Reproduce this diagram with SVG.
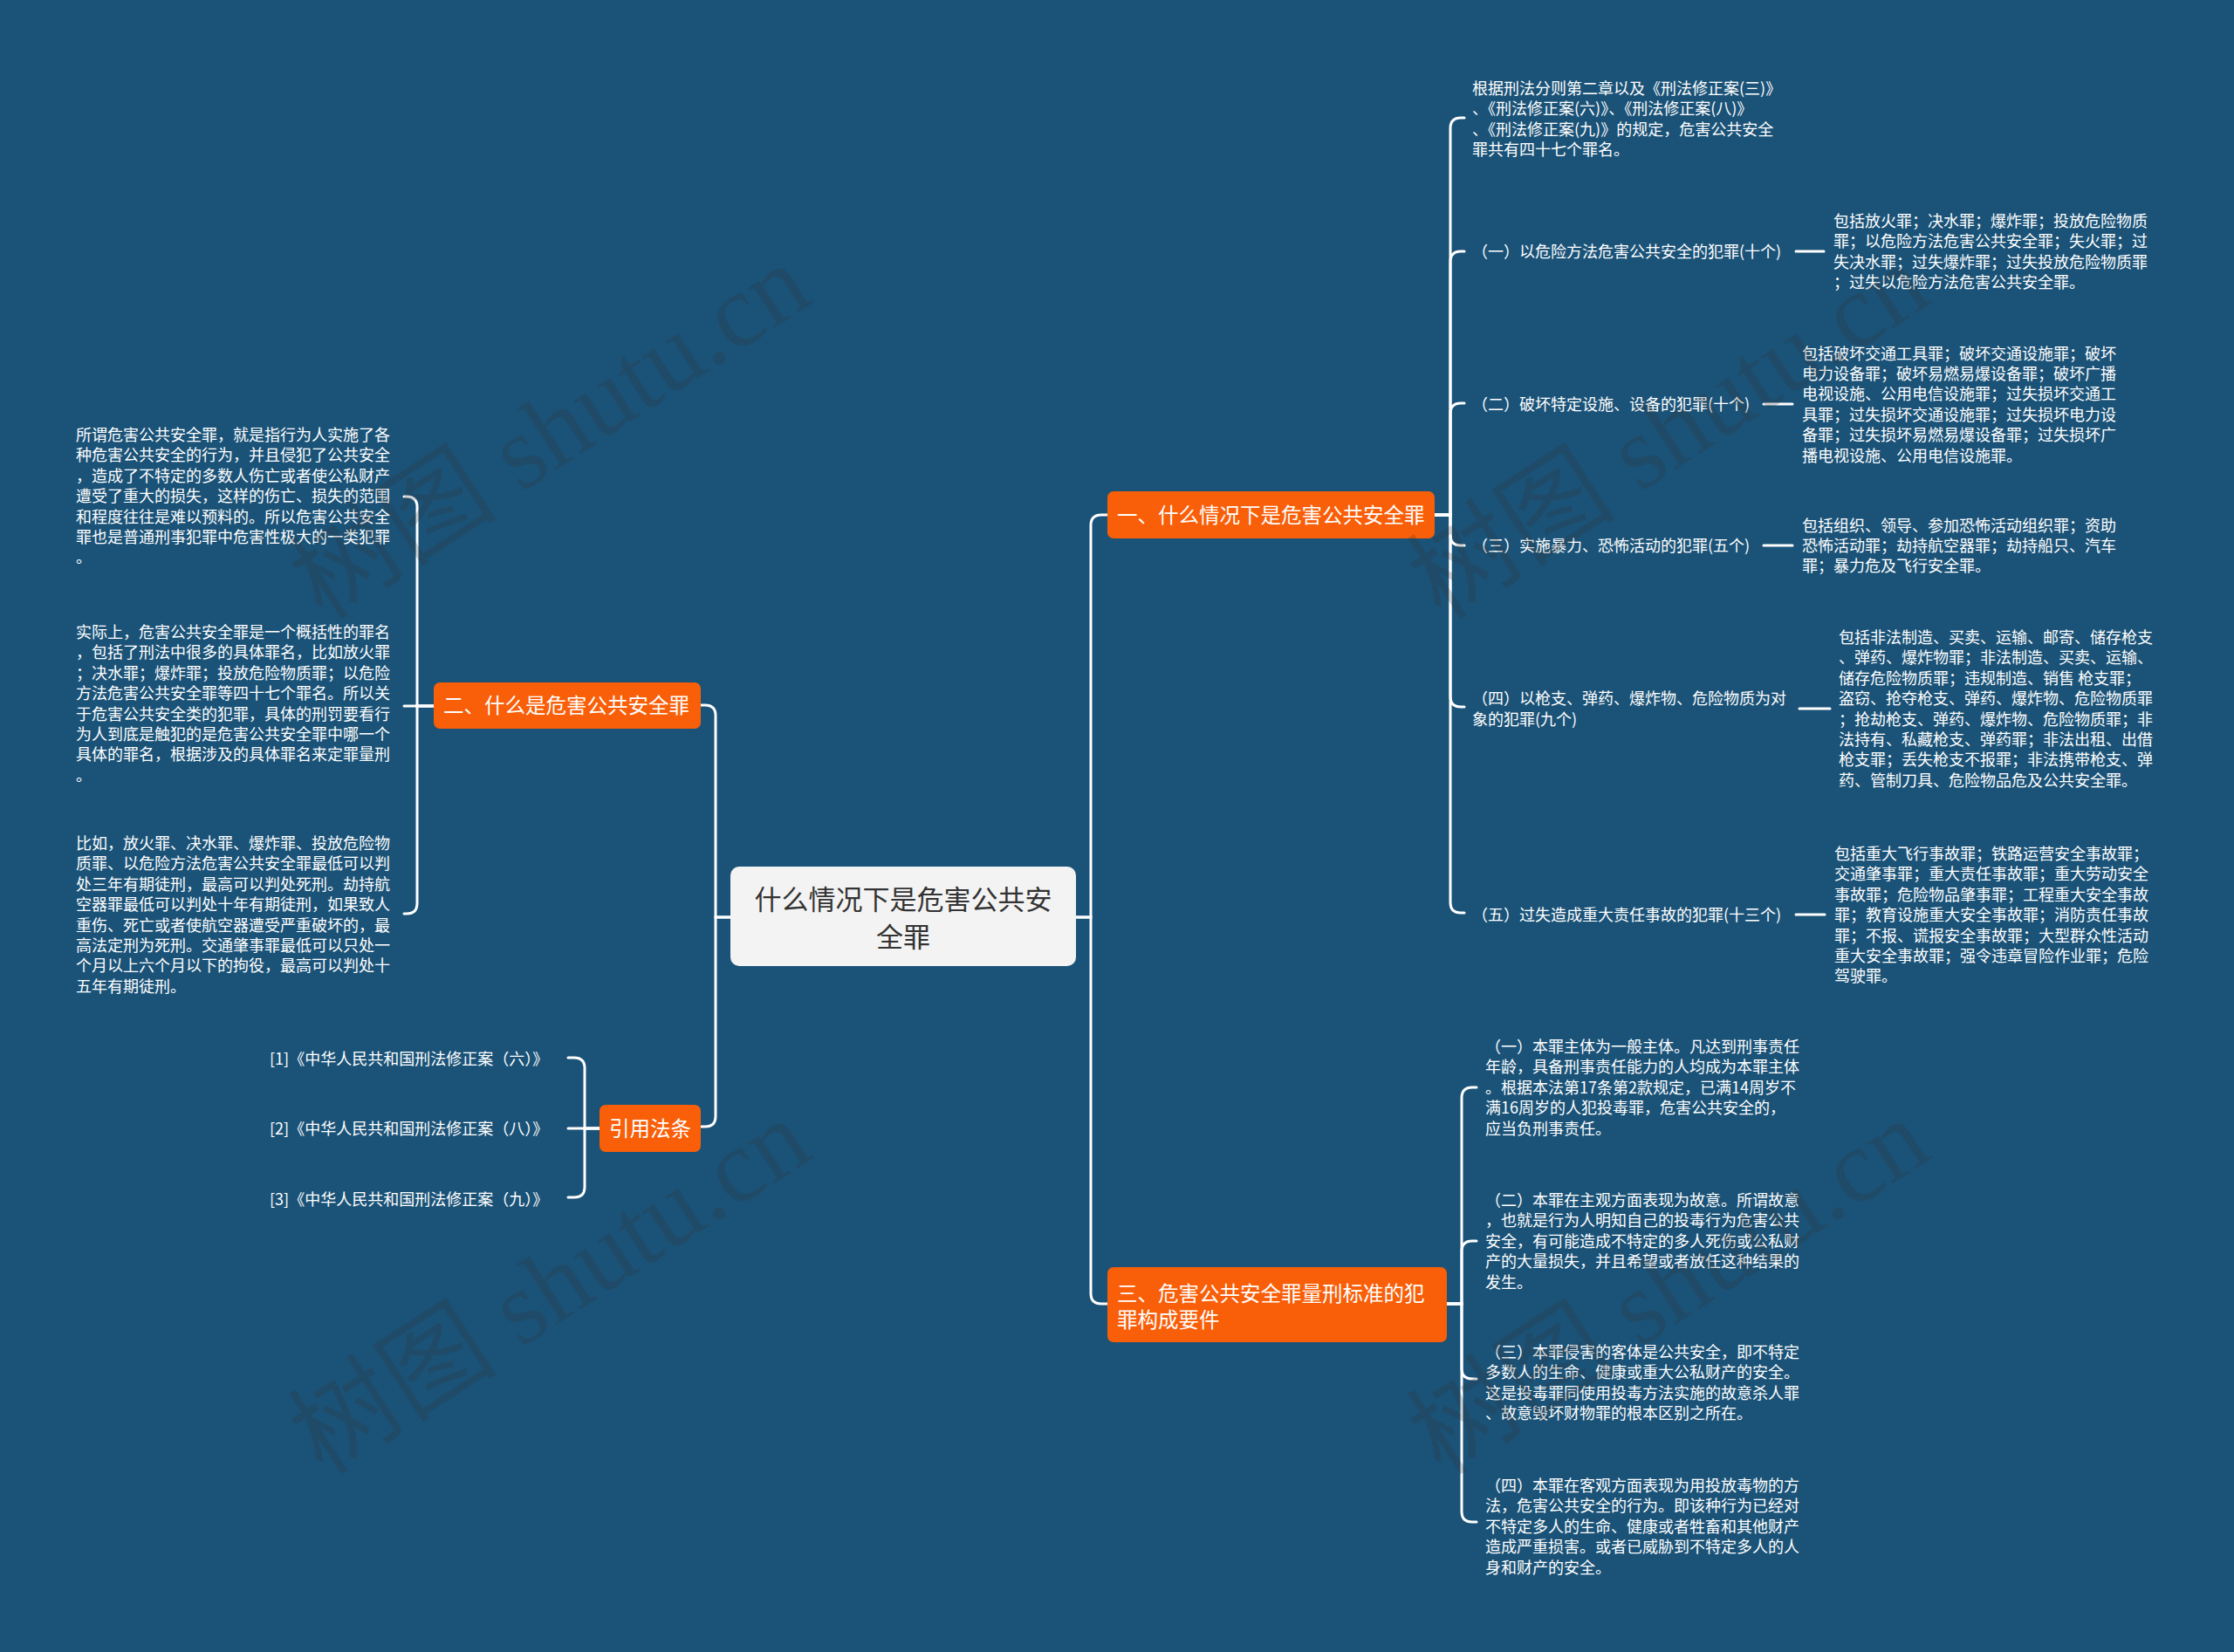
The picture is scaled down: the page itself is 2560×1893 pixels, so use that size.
<svg xmlns="http://www.w3.org/2000/svg" width="2560" height="1893" viewBox="0 0 2560 1893">
<style>
.bg{fill:#1b5378}
.t{font-family:"Noto Sans CJK SC","Noto Sans",sans-serif;font-size:18px;fill:#ffffff}
.bt{font-family:"Noto Sans CJK SC","Noto Sans",sans-serif;font-size:23.5px;fill:#ffffff}
.ct{font-family:"Noto Sans CJK SC","Noto Sans",sans-serif;font-size:31px;fill:#333333}
.ob{fill:#f95e08}
.cb{fill:#f3f3f3}
.ln{fill:none;stroke:#ffffff;stroke-width:3;stroke-linecap:round}
.wm{font-family:"Liberation Serif","Noto Sans CJK SC",serif;font-size:120px;fill:#333333;fill-opacity:0.22}
</style>
<rect class="bg" x="0" y="0" width="2560" height="1893"/>

<g id="connectors">
  <path class="ln" d="M1233 1051 H1250 V602 Q1250 590 1262 590 H1269"/>
  <path class="ln" d="M1233 1051 H1250 V1482 Q1250 1494 1262 1494 H1269"/>
  <path class="ln" d="M837 1051 H820 V820 Q820 808 808 808 H803"/>
  <path class="ln" d="M837 1051 H820 V1279 Q820 1291 808 1291 H803"/>

  <path class="ln" d="M1644 590 H1662 V147 Q1662 135 1674 135 H1678"/>
  <path class="ln" d="M1644 590 H1662 V300 Q1662 288 1674 288 H1678"/>
  <path class="ln" d="M1644 590 H1662 V474 Q1662 462 1674 462 H1678"/>
  <path class="ln" d="M1644 590 H1662 V613 Q1662 625 1674 625 H1678"/>
  <path class="ln" d="M1644 590 H1662 V798 Q1662 810 1674 810 H1678"/>
  <path class="ln" d="M1644 590 H1662 V1034 Q1662 1046 1674 1046 H1678"/>

  <path class="ln" d="M2058 288 H2090"/>
  <path class="ln" d="M2021 463 H2054"/>
  <path class="ln" d="M2021 625 H2054"/>
  <path class="ln" d="M2062 812 H2097"/>
  <path class="ln" d="M2058 1048 H2091"/>

  <path class="ln" d="M1658 1494 H1675 V1258 Q1675 1246 1687 1246 H1692"/>
  <path class="ln" d="M1658 1494 H1675 V1434 Q1675 1422 1687 1422 H1692"/>
  <path class="ln" d="M1658 1494 H1675 V1568 Q1675 1580 1687 1580 H1692"/>
  <path class="ln" d="M1658 1494 H1675 V1732 Q1675 1744 1687 1744 H1692"/>

  <path class="ln" d="M497 809 H478 V581 Q478 569 466 569 H463"/>
  <path class="ln" d="M497 809 H463"/>
  <path class="ln" d="M497 809 H478 V1035 Q478 1047 466 1047 H463"/>

  <path class="ln" d="M687 1293 H670 V1224 Q670 1212 658 1212 H651"/>
  <path class="ln" d="M687 1293 H651"/>
  <path class="ln" d="M687 1293 H670 V1360 Q670 1372 658 1372 H651"/>
</g>

<g id="center">
  <rect class="cb" x="837" y="993" width="396" height="114" rx="10"/>
  <text class="ct" text-anchor="middle"><tspan x="1035" y="1042">什么情况下是危害公共安</tspan><tspan x="1035" y="1085">全罪</tspan></text>
</g>

<g id="b1">
  <rect class="ob" x="1269" y="563" width="375" height="54" rx="7"/>
  <text class="bt" x="1280" y="599">一、什么情况下是危害公共安全罪</text>
</g>
<g id="b2">
  <rect class="ob" x="497" y="782" width="306" height="53" rx="7"/>
  <text class="bt" x="508" y="817">二、什么是危害公共安全罪</text>
</g>
<g id="b4">
  <rect class="ob" x="687" y="1266" width="116" height="54" rx="7"/>
  <text class="bt" x="745" y="1302" text-anchor="middle">引用法条</text>
</g>
<g id="b3">
  <rect class="ob" x="1269" y="1452" width="389" height="86" rx="7"/>
  <text class="bt"><tspan x="1280" y="1491">三、危害公共安全罪量刑标准的犯</tspan><tspan x="1280" y="1521">罪构成要件</tspan></text>
</g>

<g id="b1-intro">
  <text class="t"><tspan x="1687" y="108">根据刑法分则第二章以及《刑法修正案(三)》</tspan><tspan x="1687" y="131.4">、《刑法修正案(六)》、《刑法修正案(八)》</tspan><tspan x="1687" y="154.8">、《刑法修正案(九)》的规定，危害公共安全</tspan><tspan x="1687" y="178.2">罪共有四十七个罪名。</tspan></text>
</g>
<g id="b1-c1">
  <text class="t" x="1687" y="295">（一）以危险方法危害公共安全的犯罪(十个)</text>
</g>
<g id="b1-c1-d">
  <text class="t"><tspan x="2101" y="260">包括放火罪；决水罪；爆炸罪；投放危险物质</tspan><tspan x="2101" y="283.4">罪；以危险方法危害公共安全罪；失火罪；过</tspan><tspan x="2101" y="306.8">失决水罪；过失爆炸罪；过失投放危险物质罪</tspan><tspan x="2101" y="330.2">；过失以危险方法危害公共安全罪。</tspan></text>
</g>
<g id="b1-c2">
  <text class="t" x="1687" y="470">（二）破坏特定设施、设备的犯罪(十个)</text>
</g>
<g id="b1-c2-d">
  <text class="t"><tspan x="2065" y="411.5">包括破坏交通工具罪；破坏交通设施罪；破坏</tspan><tspan x="2065" y="434.9">电力设备罪；破坏易燃易爆设备罪；破坏广播</tspan><tspan x="2065" y="458.3">电视设施、公用电信设施罪；过失损坏交通工</tspan><tspan x="2065" y="481.7">具罪；过失损坏交通设施罪；过失损坏电力设</tspan><tspan x="2065" y="505.1">备罪；过失损坏易燃易爆设备罪；过失损坏广</tspan><tspan x="2065" y="528.5">播电视设施、公用电信设施罪。</tspan></text>
</g>
<g id="b1-c3">
  <text class="t" x="1687" y="632">（三）实施暴力、恐怖活动的犯罪(五个)</text>
</g>
<g id="b1-c3-d">
  <text class="t"><tspan x="2065" y="608.6">包括组织、领导、参加恐怖活动组织罪；资助</tspan><tspan x="2065" y="632">恐怖活动罪；劫持航空器罪；劫持船只、汽车</tspan><tspan x="2065" y="655.4">罪；暴力危及飞行安全罪。</tspan></text>
</g>
<g id="b1-c4">
  <text class="t"><tspan x="1687" y="807">（四）以枪支、弹药、爆炸物、危险物质为对</tspan><tspan x="1687" y="831">象的犯罪(九个)</tspan></text>
</g>
<g id="b1-c4-d">
  <text class="t"><tspan x="2107" y="737">包括非法制造、买卖、运输、邮寄、储存枪支</tspan><tspan x="2107" y="760.4">、弹药、爆炸物罪；非法制造、买卖、运输、</tspan><tspan x="2107" y="783.8">储存危险物质罪；违规制造、销售 枪支罪；</tspan><tspan x="2107" y="807.2">盗窃、抢夺枪支、弹药、爆炸物、危险物质罪</tspan><tspan x="2107" y="830.6">；抢劫枪支、弹药、爆炸物、危险物质罪；非</tspan><tspan x="2107" y="854">法持有、私藏枪支、弹药罪；非法出租、出借</tspan><tspan x="2107" y="877.4">枪支罪；丢失枪支不报罪；非法携带枪支、弹</tspan><tspan x="2107" y="900.8">药、管制刀具、危险物品危及公共安全罪。</tspan></text>
</g>
<g id="b1-c5">
  <text class="t" x="1687" y="1055">（五）过失造成重大责任事故的犯罪(十三个)</text>
</g>
<g id="b1-c5-d">
  <text class="t"><tspan x="2102" y="985">包括重大飞行事故罪；铁路运营安全事故罪；</tspan><tspan x="2102" y="1008.4">交通肇事罪；重大责任事故罪；重大劳动安全</tspan><tspan x="2102" y="1031.8">事故罪；危险物品肇事罪；工程重大安全事故</tspan><tspan x="2102" y="1055.2">罪；教育设施重大安全事故罪；消防责任事故</tspan><tspan x="2102" y="1078.6">罪；不报、谎报安全事故罪；大型群众性活动</tspan><tspan x="2102" y="1102">重大安全事故罪；强令违章冒险作业罪；危险</tspan><tspan x="2102" y="1125.4">驾驶罪。</tspan></text>
</g>

<g id="b2-c1">
  <text class="t"><tspan x="87" y="505">所谓危害公共安全罪，就是指行为人实施了各</tspan><tspan x="87" y="528.4">种危害公共安全的行为，并且侵犯了公共安全</tspan><tspan x="87" y="551.8">，造成了不特定的多数人伤亡或者使公私财产</tspan><tspan x="87" y="575.2">遭受了重大的损失，这样的伤亡、损失的范围</tspan><tspan x="87" y="598.6">和程度往往是难以预料的。所以危害公共安全</tspan><tspan x="87" y="622">罪也是普通刑事犯罪中危害性极大的一类犯罪</tspan><tspan x="87" y="645.4">。</tspan></text>
</g>
<g id="b2-c2">
  <text class="t"><tspan x="87" y="731">实际上，危害公共安全罪是一个概括性的罪名</tspan><tspan x="87" y="754.4">，包括了刑法中很多的具体罪名，比如放火罪</tspan><tspan x="87" y="777.8">；决水罪；爆炸罪；投放危险物质罪；以危险</tspan><tspan x="87" y="801.2">方法危害公共安全罪等四十七个罪名。所以关</tspan><tspan x="87" y="824.6">于危害公共安全类的犯罪，具体的刑罚要看行</tspan><tspan x="87" y="848">为人到底是触犯的是危害公共安全罪中哪一个</tspan><tspan x="87" y="871.4">具体的罪名，根据涉及的具体罪名来定罪量刑</tspan><tspan x="87" y="894.8">。</tspan></text>
</g>
<g id="b2-c3">
  <text class="t"><tspan x="87" y="973">比如，放火罪、决水罪、爆炸罪、投放危险物</tspan><tspan x="87" y="996.4">质罪、以危险方法危害公共安全罪最低可以判</tspan><tspan x="87" y="1019.8">处三年有期徒刑，最高可以判处死刑。劫持航</tspan><tspan x="87" y="1043.2">空器罪最低可以判处十年有期徒刑，如果致人</tspan><tspan x="87" y="1066.6">重伤、死亡或者使航空器遭受严重破坏的，最</tspan><tspan x="87" y="1090">高法定刑为死刑。交通肇事罪最低可以只处一</tspan><tspan x="87" y="1113.4">个月以上六个月以下的拘役，最高可以判处十</tspan><tspan x="87" y="1136.8">五年有期徒刑。</tspan></text>
</g>

<g id="ref1"><text class="t" x="309" y="1220">[1]《中华人民共和国刑法修正案（六）》</text></g>
<g id="ref2"><text class="t" x="309" y="1300">[2]《中华人民共和国刑法修正案（八）》</text></g>
<g id="ref3"><text class="t" x="309" y="1381">[3]《中华人民共和国刑法修正案（九）》</text></g>

<g id="b3-c1">
  <text class="t"><tspan x="1702" y="1206">（一）本罪主体为一般主体。凡达到刑事责任</tspan><tspan x="1702" y="1229.4">年龄，具备刑事责任能力的人均成为本罪主体</tspan><tspan x="1702" y="1252.8">。根据本法第17条第2款规定，已满14周岁不</tspan><tspan x="1702" y="1276.2">满16周岁的人犯投毒罪，危害公共安全的，</tspan><tspan x="1702" y="1299.6">应当负刑事责任。</tspan></text>
</g>
<g id="b3-c2">
  <text class="t"><tspan x="1702" y="1382">（二）本罪在主观方面表现为故意。所谓故意</tspan><tspan x="1702" y="1405.4">，也就是行为人明知自己的投毒行为危害公共</tspan><tspan x="1702" y="1428.8">安全，有可能造成不特定的多人死伤或公私财</tspan><tspan x="1702" y="1452.2">产的大量损失，并且希望或者放任这种结果的</tspan><tspan x="1702" y="1475.6">发生。</tspan></text>
</g>
<g id="b3-c3">
  <text class="t"><tspan x="1702" y="1556">（三）本罪侵害的客体是公共安全，即不特定</tspan><tspan x="1702" y="1579.4">多数人的生命、健康或重大公私财产的安全。</tspan><tspan x="1702" y="1602.8">这是投毒罪同使用投毒方法实施的故意杀人罪</tspan><tspan x="1702" y="1626.2">、故意毁坏财物罪的根本区别之所在。</tspan></text>
</g>
<g id="b3-c4">
  <text class="t"><tspan x="1702" y="1709">（四）本罪在客观方面表现为用投放毒物的方</tspan><tspan x="1702" y="1732.4">法，危害公共安全的行为。即该种行为已经对</tspan><tspan x="1702" y="1755.8">不特定多人的生命、健康或者牲畜和其他财产</tspan><tspan x="1702" y="1779.2">造成严重损害。或者已威胁到不特定多人的人</tspan><tspan x="1702" y="1802.6">身和财产的安全。</tspan></text>
</g>

<g id="watermarks">
  <text class="wm" x="370" y="712" transform="rotate(-33 370 712)">树图 shutu.cn</text>
  <text class="wm" x="370" y="1692" transform="rotate(-33 370 1692)">树图 shutu.cn</text>
  <text class="wm" x="1652" y="712" transform="rotate(-33 1652 712)">树图 shutu.cn</text>
  <text class="wm" x="1652" y="1692" transform="rotate(-33 1652 1692)">树图 shutu.cn</text>
</g>
</svg>
